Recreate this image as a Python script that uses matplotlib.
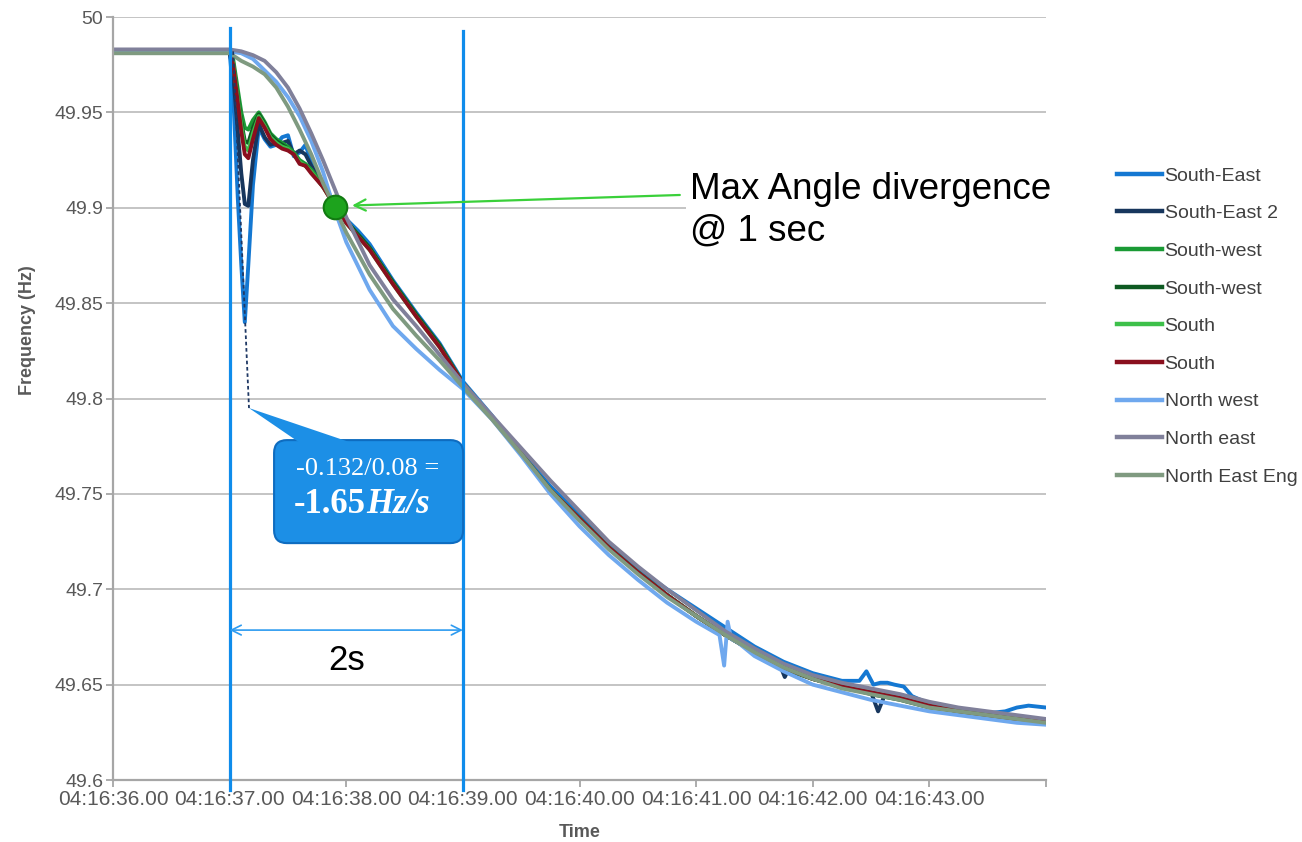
import matplotlib
matplotlib.use("Agg")
import matplotlib.pyplot as plt
from matplotlib.patches import FancyBboxPatch, Polygon
from matplotlib.ticker import FuncFormatter, MultipleLocator

plt.rcParams["font.family"] = ["Liberation Sans", "DejaVu Sans"]

# seconds after 04:16:00, frequency in Hz
t_smooth = [36.0, 36.5, 37.0, 37.1, 37.2, 37.3, 37.4, 37.5, 37.6, 37.7, 37.8, 37.9, 38.0,
            38.2, 38.4, 38.6, 38.8, 39.0, 39.25, 39.5, 39.75, 40.0, 40.25, 40.5, 40.75,
            41.0, 41.25, 41.5, 41.75, 42.0, 42.25, 42.5, 42.75, 43.0, 43.25, 43.5, 43.75, 44.0]
f_north_east = [49.983, 49.983, 49.983, 49.982, 49.980, 49.977, 49.971, 49.963, 49.952, 49.939,
                49.925, 49.910, 49.895, 49.870, 49.852, 49.838, 49.823, 49.808, 49.791, 49.774,
                49.757, 49.741, 49.725, 49.712, 49.700, 49.689, 49.678, 49.669, 49.661, 49.655,
                49.651, 49.648, 49.645, 49.641, 49.638, 49.636, 49.634, 49.632]
f_north_east_eng = [49.981, 49.981, 49.981, 49.977, 49.974, 49.970, 49.963, 49.953, 49.941, 49.928,
                    49.913, 49.900, 49.887, 49.865, 49.847, 49.833, 49.820, 49.806, 49.789, 49.771,
                    49.752, 49.736, 49.721, 49.708, 49.696, 49.686, 49.676, 49.667, 49.659, 49.653,
                    49.648, 49.645, 49.642, 49.638, 49.636, 49.634, 49.632, 49.630]

t_north_west = [36.0, 36.5, 37.0, 37.1, 37.2, 37.3, 37.4, 37.5, 37.6, 37.7, 37.8, 37.9, 38.0,
                38.2, 38.4, 38.6, 38.8, 39.0, 39.25, 39.5, 39.75, 40.0, 40.25, 40.5, 40.75,
                41.0, 41.2, 41.24, 41.27, 41.3, 41.36, 41.5, 41.75, 42.0, 42.25, 42.5, 42.75,
                43.0, 43.25, 43.5, 43.75, 44.0]
f_north_west = [49.982, 49.982, 49.982, 49.981, 49.978, 49.972, 49.966, 49.958, 49.948, 49.935,
                49.919, 49.899, 49.882, 49.857, 49.838, 49.826, 49.815, 49.805, 49.789, 49.770,
                49.750, 49.733, 49.718, 49.705, 49.693, 49.683, 49.676, 49.660, 49.683, 49.674,
                49.672, 49.665, 49.657, 49.650, 49.646, 49.642, 49.639, 49.636, 49.634, 49.632,
                49.630, 49.629]

t_south = [36.0, 36.5, 37.0, 37.03, 37.07, 37.1, 37.13, 37.16, 37.2, 37.25, 37.3, 37.35, 37.4,
           37.45, 37.5, 37.55, 37.6, 37.65, 37.7, 37.8, 37.9, 38.0, 38.2, 38.4, 38.6, 38.8,
           39.0, 39.25, 39.5, 39.75, 40.0, 40.25, 40.5, 40.75, 41.0, 41.25, 41.5, 41.75, 42.0,
           42.25, 42.5, 42.75, 43.0, 43.25, 43.5, 43.75, 44.0]
f_south_west = [49.982, 49.982, 49.982, 49.978, 49.962, 49.950, 49.942, 49.941, 49.946, 49.950,
                49.945, 49.939, 49.936, 49.934, 49.932, 49.929, 49.925, 49.923, 49.920, 49.912,
                49.902, 49.893, 49.879, 49.861, 49.844, 49.828, 49.808, 49.790, 49.771, 49.752,
                49.737, 49.722, 49.709, 49.697, 49.686, 49.676, 49.667, 49.659, 49.653, 49.649,
                49.646, 49.643, 49.639, 49.636, 49.634, 49.632, 49.631]
f_south_west_2 = [49.982, 49.982, 49.982, 49.976, 49.958, 49.945, 49.935, 49.934, 49.942, 49.949,
                  49.944, 49.938, 49.935, 49.933, 49.931, 49.928, 49.924, 49.922, 49.919, 49.911,
                  49.902, 49.893, 49.879, 49.861, 49.844, 49.828, 49.808, 49.790, 49.771, 49.752,
                  49.737, 49.722, 49.709, 49.697, 49.686, 49.676, 49.667, 49.658, 49.653, 49.649,
                  49.645, 49.642, 49.638, 49.636, 49.634, 49.632, 49.631]
f_south_1 = [49.982, 49.982, 49.982, 49.976, 49.957, 49.943, 49.932, 49.930, 49.939, 49.948,
             49.943, 49.937, 49.934, 49.932, 49.931, 49.928, 49.924, 49.922, 49.919, 49.911,
             49.901, 49.892, 49.878, 49.860, 49.843, 49.827, 49.808, 49.790, 49.771, 49.752,
             49.737, 49.722, 49.709, 49.697, 49.686, 49.676, 49.667, 49.659, 49.653, 49.649,
             49.646, 49.643, 49.639, 49.636, 49.634, 49.632, 49.631]
f_south_2 = [49.982, 49.982, 49.982, 49.975, 49.955, 49.940, 49.928, 49.926, 49.936, 49.947,
             49.942, 49.936, 49.933, 49.931, 49.930, 49.928, 49.923, 49.922, 49.918, 49.911,
             49.901, 49.892, 49.878, 49.860, 49.843, 49.827, 49.808, 49.790, 49.771, 49.752,
             49.737, 49.722, 49.709, 49.697, 49.686, 49.676, 49.667, 49.659, 49.653, 49.649,
             49.646, 49.643, 49.639, 49.636, 49.634, 49.632, 49.631]

t_south_east_2 = [36.0, 36.5, 37.0, 37.03, 37.07, 37.1, 37.13, 37.16, 37.2, 37.25, 37.3, 37.35,
                  37.4, 37.45, 37.5, 37.55, 37.6, 37.65, 37.7, 37.8, 37.9, 38.0, 38.2, 38.4,
                  38.6, 38.8, 39.0, 39.25, 39.5, 39.75, 40.0, 40.25, 40.5, 40.75, 41.0, 41.25,
                  41.5, 41.72, 41.76, 41.8, 42.0, 42.25, 42.5, 42.56, 42.62, 42.75, 43.0, 43.25,
                  43.5, 43.75, 44.0]
f_south_east_2 = [49.982, 49.982, 49.982, 49.970, 49.940, 49.918, 49.902, 49.901, 49.925, 49.944,
                  49.937, 49.933, 49.934, 49.934, 49.935, 49.928, 49.930, 49.928, 49.922, 49.913,
                  49.902, 49.893, 49.879, 49.861, 49.844, 49.828, 49.808, 49.790, 49.771, 49.752,
                  49.737, 49.722, 49.709, 49.697, 49.686, 49.676, 49.667, 49.660, 49.654, 49.659,
                  49.653, 49.649, 49.646, 49.636, 49.645, 49.643, 49.639, 49.636, 49.634, 49.632,
                  49.631]

t_south_east = [36.0, 36.5, 37.0, 37.03, 37.07, 37.1, 37.13, 37.16, 37.2, 37.25, 37.3, 37.35,
                37.4, 37.45, 37.5, 37.55, 37.6, 37.65, 37.7, 37.8, 37.9, 38.0, 38.1, 38.2, 38.4,
                38.6, 38.8, 39.0, 39.25, 39.5, 39.75, 40.0, 40.25, 40.5, 40.75, 41.0, 41.25, 41.5,
                41.75, 42.0, 42.25, 42.4, 42.46, 42.52, 42.58, 42.64, 42.7, 42.78, 42.85, 43.0,
                43.25, 43.5, 43.65, 43.75, 43.85, 44.0]
f_south_east = [49.982, 49.982, 49.982, 49.960, 49.905, 49.870, 49.840, 49.870, 49.912, 49.942,
                49.936, 49.932, 49.933, 49.937, 49.938, 49.927, 49.929, 49.933, 49.924, 49.913,
                49.902, 49.894, 49.888, 49.881, 49.862, 49.845, 49.829, 49.809, 49.791, 49.772,
                49.754, 49.739, 49.724, 49.711, 49.700, 49.690, 49.680, 49.670, 49.662, 49.656,
                49.652, 49.652, 49.657, 49.650, 49.651, 49.651, 49.650, 49.649, 49.644, 49.640,
                49.637, 49.635, 49.636, 49.638, 49.639, 49.638]

series = [
    ("South-East", t_south_east, f_south_east, "#1478D2"),
    ("South-East 2", t_south_east_2, f_south_east_2, "#17365D"),
    ("South-west", t_south, f_south_west, "#1A9A35"),
    ("South-west", t_south, f_south_west_2, "#0E5A22"),
    ("South", t_south, f_south_1, "#3DC04A"),
    ("South", t_south, f_south_2, "#8A0F1E"),
    ("North west", t_north_west, f_north_west, "#6FA8EE"),
    ("North east", t_smooth, f_north_east, "#80809A"),
    ("North East Eng", t_smooth, f_north_east_eng, "#7F9A80"),
]

# annotation values
event_start, window_end = 37.0, 39.0
max_div_t, max_div_f = 37.904, 49.9006

fig = plt.figure(figsize=(13.02, 8.42), dpi=100)
ax = fig.add_axes([0.0868, 0.0736, 0.7166, 0.9062])

for name, t, f, c in series:
    ax.plot(t, f, color=c, lw=2.8, label=name, solid_joinstyle="round")

ax.set_xlim(36, 44)
ax.set_ylim(49.6, 50)
ax.xaxis.set_major_locator(MultipleLocator(1))
ax.yaxis.set_major_locator(MultipleLocator(0.05))
ax.xaxis.set_major_formatter(FuncFormatter(lambda v, p: f"04:16:{v:05.2f}" if v < 43.5 else ""))
ax.yaxis.set_major_formatter(FuncFormatter(lambda v, p: f"{v:g}"))
ax.grid(axis="y", color="#BFBFBF", lw=1.3)
ax.set_axisbelow(True)
for s in ("top", "right"):
    ax.spines[s].set_visible(False)
for s in ("left", "bottom"):
    ax.spines[s].set_color("#A6A6A6")
    ax.spines[s].set_linewidth(1.6)
ax.tick_params(colors="#A6A6A6", labelcolor="#595959", labelsize=14, length=5, width=1.3, pad=2)
ax.tick_params(axis="x", labelsize=15)

ax.set_xlabel("Time", fontsize=13, fontweight="bold", color="#595959")
ax.set_ylabel("Frequency (Hz)", fontsize=13, fontweight="bold", color="#595959")
ax.xaxis.set_label_coords(0.5, -0.058)
ax.yaxis.set_label_coords(-0.083, 0.59)

# 2 s window markers
for tv, top in ((event_start, 49.9942), (window_end, 49.9925)):
    ax.plot([tv, tv], [49.5948, top], color="#0F8CEB", lw=2.3, clip_on=False, zorder=5)
ax.annotate("", xy=(event_start, 49.6786), xytext=(window_end, 49.6786),
            arrowprops=dict(arrowstyle="<->,head_length=0.7,head_width=0.35",
                            color="#2E9BF0", lw=1.2, shrinkA=0, shrinkB=0), zorder=6)
ax.text(38.0, 49.6625, "2s", fontsize=25, ha="center", va="center", color="black")

# RoCoF slope
ax.plot([37.03, 37.166], [49.982, 49.795], color="#1F3864", lw=1.3, ls=(0, (2, 1.5)), zorder=4)

# callout box
box = FancyBboxPatch((37.381, 49.7242), 1.621, 0.054,
                     boxstyle="round,pad=0,rounding_size=0.11", mutation_aspect=116.6 / 1907.5,
                     fc="#1C8FE6", ec="#0E6CC0", lw=1.5, clip_on=False, zorder=8)
ax.add_patch(box)
ax.add_patch(Polygon([(37.166, 49.795), (37.604, 49.7767), (38.05, 49.7767)], closed=True,
                     fc="#1C8FE6", ec="none", clip_on=False, zorder=8))
ax.text(38.187, 49.760, "-0.132/0.08 =", fontsize=19, family="Liberation Serif",
        color="white", ha="center", va="baseline", zorder=9)
ax.text(38.17, 49.740, "-1.65", fontsize=25, family="Liberation Serif", fontweight="bold",
        color="white", ha="right", va="baseline", zorder=9)
ax.text(38.17, 49.740, "Hz/s", fontsize=25, family="Liberation Serif", fontweight="bold",
        fontstyle="italic", color="white", ha="left", va="baseline", zorder=9)

# max angle divergence marker
ax.annotate("", xy=(38.05, 49.9012), xytext=(40.86, 49.9067),
            arrowprops=dict(arrowstyle="->,head_length=0.8,head_width=0.4",
                            color="#3AD03A", lw=1.6, shrinkA=0, shrinkB=0), zorder=7)
ax.plot([max_div_t], [max_div_f], "o", ms=17, mfc="#1DA31D", mec="#117A11", mew=1.5, zorder=8)
ax.text(40.95, 49.8985, "Max Angle divergence\n@ 1 sec", fontsize=26.5, ha="left", va="center",
        linespacing=1.25, color="black",
        bbox=dict(fc="white", ec="none", pad=3), zorder=7)

leg = ax.legend(loc="upper left", bbox_to_anchor=(0.8579, 0.8016), bbox_transform=fig.transFigure,
                frameon=False, fontsize=14, borderpad=0, borderaxespad=0, handlelength=2.3,
                handletextpad=0.15, labelspacing=1.03, labelcolor="#404040")
for line in leg.get_lines():
    line.set_linewidth(3.2)

fig.savefig("out.png", dpi=100)
